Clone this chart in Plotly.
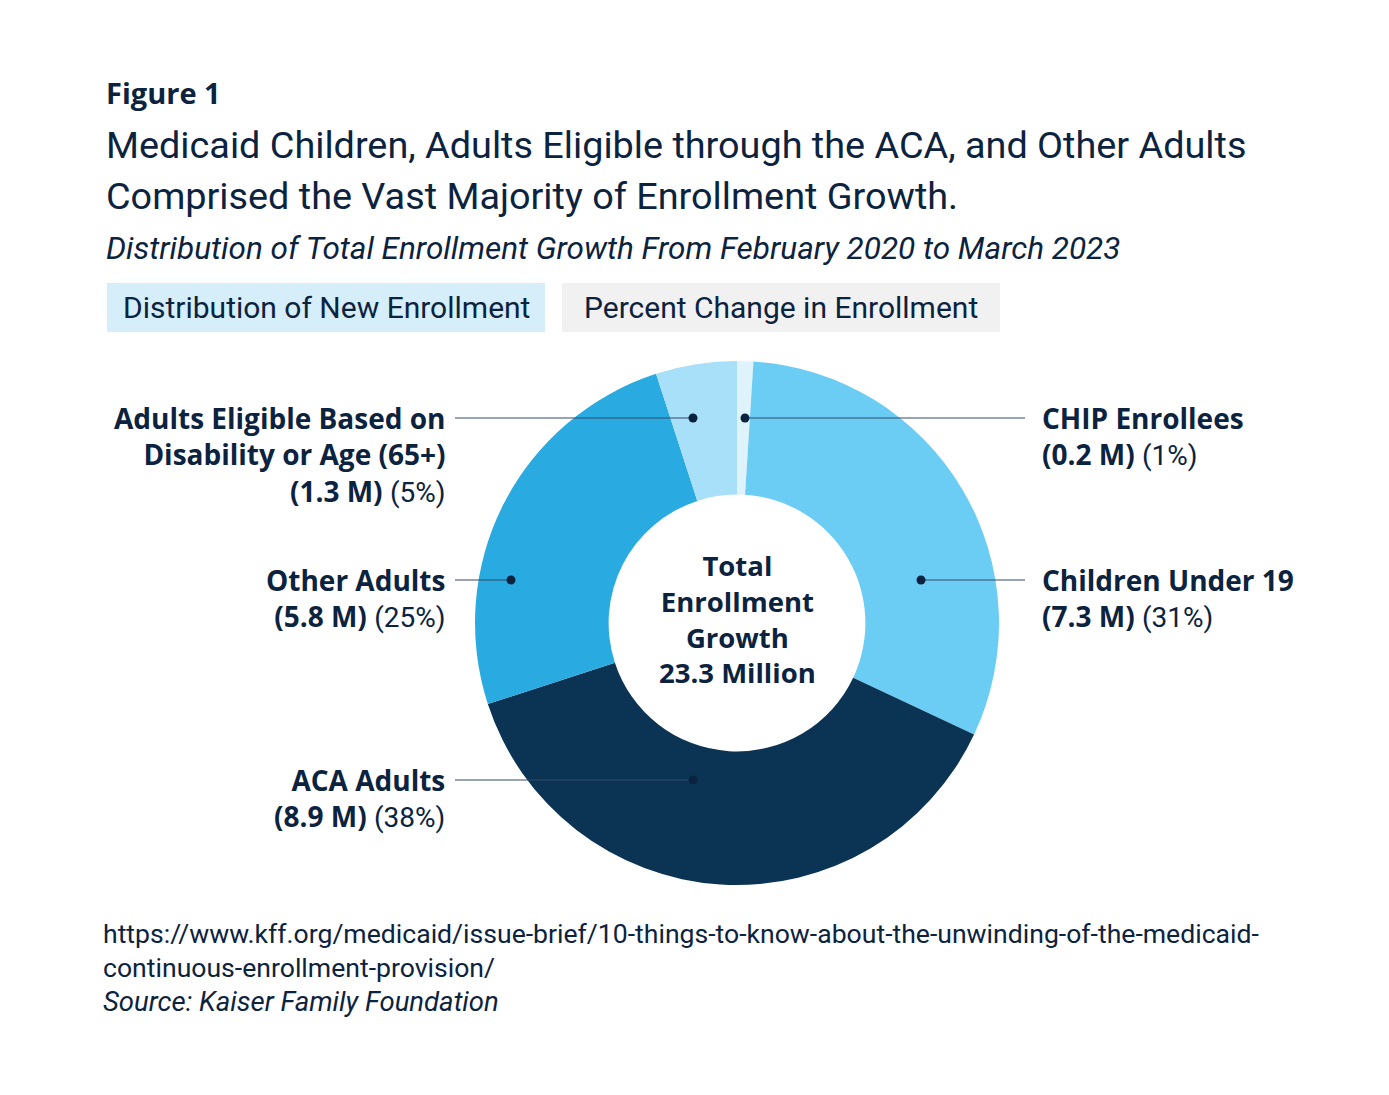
import plotly.graph_objects as go

W, H = 1389, 1095

categories = ["CHIP Enrollees", "Children Under 19", "ACA Adults", "Other Adults",
              "Adults Eligible Based on Disability or Age (65+)"]
enrollment_millions = [0.2, 7.3, 8.9, 5.8, 1.3]
share_pct = [1, 31, 38, 25, 5]
slice_colors = ["#dff3fc", "#6ccdf4", "#0b3454", "#29abe2", "#a8dff9"]

NAVY = "#0c2340"
REG = "Roboto"
BOLD = "Open Sans"


def px(x):
    return x / W


def py(y):
    return 1 - y / H


fig = go.Figure()
cx, cy, R = 737, 623, 262
fig.add_trace(go.Pie(
    labels=categories, values=share_pct, hole=0.49, sort=False,
    direction="clockwise", rotation=0,
    marker=dict(colors=slice_colors, line=dict(width=0)),
    textinfo="none", hoverinfo="label+percent", showlegend=False,
    domain=dict(x=[px(cx - R), px(cx + R)], y=[py(cy + R), py(cy - R)]),
))

ann = []


def text(x, y, s, size, font=REG, anchor="left", color=NAVY, yanchor="middle"):
    ann.append(dict(x=px(x), y=py(y), xref="paper", yref="paper", text=s,
                    showarrow=False, xanchor=anchor, yanchor=yanchor,
                    font=dict(family=font, size=size, color=color), align=anchor))


text(104, 93, "<b>Figure 1</b>", 29, BOLD)
text(104, 145, "Medicaid Children, Adults Eligible through the ACA, and Other Adults", 37.8)
text(104, 196, "Comprised the Vast Majority of Enrollment Growth.", 37.8)
text(104, 248, "<i>Distribution of Total Enrollment Growth From February 2020 to March 2023</i>", 31.5)

shapes = []
shapes.append(dict(type="rect", xref="paper", yref="paper", x0=px(107), x1=px(545),
                   y0=py(332), y1=py(283), fillcolor="#d5eef9", line=dict(width=0), layer="below"))
shapes.append(dict(type="rect", xref="paper", yref="paper", x0=px(562), x1=px(1000),
                   y0=py(332), y1=py(283), fillcolor="#f1f1f1", line=dict(width=0), layer="below"))
text(326, 307, "Distribution of New Enrollment", 30, anchor="center")
text(781, 307, "Percent Change in Enrollment", 30, anchor="center")

# labels
LS = 28
right_labels = [(0, 418), (1, 580)]
left_labels = [(4, 418), (3, 580), (2, 780)]
names = ["CHIP Enrollees", "Children Under 19", "ACA Adults", "Other Adults",
         "Adults Eligible Based on<br>Disability or Age (65+)"]


def label_text(i):
    return (f"<b>{names[i]}</b><br><b>({enrollment_millions[i]} M)</b> "
            f"<span style='font-family:{REG}'>({share_pct[i]}%)</span>")


for i, y in right_labels:
    ann.append(dict(x=px(1040), y=py(y - 21), xref="paper", yref="paper", text=label_text(i),
                    showarrow=False, xanchor="left", yanchor="top", align="left",
                    font=dict(family=BOLD, size=LS, color=NAVY)))
for i, y in left_labels:
    ann.append(dict(x=px(447), y=py(y - 21), xref="paper", yref="paper", text=label_text(i),
                    showarrow=False, xanchor="right", yanchor="top", align="right",
                    font=dict(family=BOLD, size=LS, color=NAVY)))

# leader lines and dots
dots = [(745, 418, 1025), (921, 580, 1025), (693, 418, 455), (511, 580, 455), (693, 780, 455)]
for dx, dy, ex in dots:
    shapes.append(dict(type="line", xref="paper", yref="paper", x0=px(dx), x1=px(ex),
                       y0=py(dy), y1=py(dy), line=dict(color="#33496a", width=1.2)))
    shapes.append(dict(type="circle", xref="paper", yref="paper", x0=px(dx - 4.5), x1=px(dx + 4.5),
                       y0=py(dy + 4.5), y1=py(dy - 4.5), fillcolor=NAVY, line=dict(width=0)))

ann.append(dict(x=px(737), y=py(619), xref="paper", yref="paper",
                text="<b>Total<br>Enrollment<br>Growth<br>23.3 Million</b>",
                showarrow=False, xanchor="center", yanchor="middle", align="center",
                font=dict(family=BOLD, size=27.5, color=NAVY)))

text(101, 933, "https://www.kff.org/medicaid/issue-brief/10-things-to-know-about-the-unwinding-of-the-medicaid-", 26.6)
text(101, 967, "continuous-enrollment-provision/", 26.6)
text(101, 1001, "<i>Source: Kaiser Family Foundation</i>", 27.5)

fig.update_layout(width=W, height=H, margin=dict(l=0, r=0, t=0, b=0),
                  paper_bgcolor="white", plot_bgcolor="white",
                  annotations=ann, shapes=shapes)
fig.write_html("out.html", config={"displayModeBar": False},
               post_script="document.body.style.margin='0';document.body.style.overflow='hidden';")
